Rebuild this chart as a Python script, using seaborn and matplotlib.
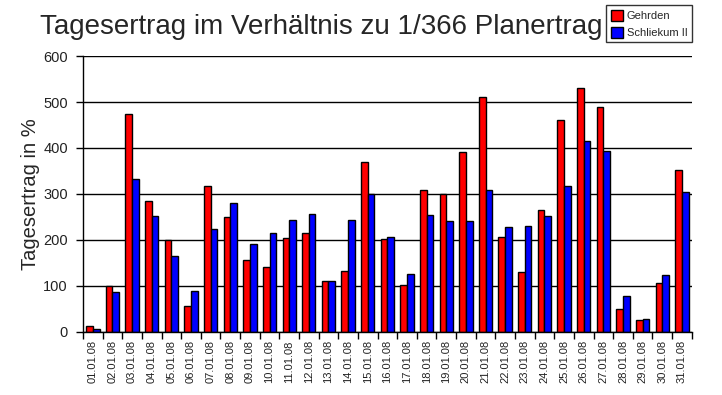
import matplotlib
matplotlib.use("Agg")
import matplotlib.pyplot as plt
import seaborn as sns
import pandas as pd
from matplotlib.patches import Patch

dates = [f"{d:02d}.01.08" for d in range(1, 32)]
gehrden = [12, 100, 474, 285, 199, 56, 317, 250, 156, 141, 204, 215, 111, 133, 370, 202,
           102, 309, 299, 391, 511, 206, 130, 265, 461, 530, 489, 50, 26, 106, 352]
schliekum = [6, 87, 333, 252, 165, 89, 224, 280, 191, 215, 243, 256, 111, 243, 299, 206,
             126, 254, 241, 241, 309, 228, 230, 252, 317, 415, 393, 78, 28, 124, 304]
series_names = ["Gehrden", "Schliekum II"]
colors = ["#ff0000", "#0000ff"]

df = pd.DataFrame({
    "Datum": dates * 2,
    "Wert": gehrden + schliekum,
    "Anlage": [series_names[0]] * len(dates) + [series_names[1]] * len(dates),
})

sns.set_style("white")
plt.rcParams["font.family"] = ["Liberation Sans", "DejaVu Sans"]

fig = plt.figure(figsize=(7.22, 3.95), dpi=100)
ax = fig.add_axes([0.115, 0.16, 0.843, 0.698])

sns.barplot(data=df, x="Datum", y="Wert", hue="Anlage", palette=colors,
            width=0.68, edgecolor="black", linewidth=1.0, ax=ax, legend=False,
            saturation=1)

ax.set_ylim(0, 600)
ax.set_yticks(range(0, 601, 100))
ax.set_xlim(-0.5, len(dates) - 0.5)
ax.yaxis.grid(True, color="black", linewidth=1)
ax.set_axisbelow(True)
for s in ["top", "right"]:
    ax.spines[s].set_visible(False)
for s in ["left", "bottom"]:
    ax.spines[s].set_color("black")
    ax.spines[s].set_linewidth(1)

ax.set_xticks([i for i in range(len(dates))])
ax.set_xticklabels(dates, rotation=90, fontsize=8, color="#222222")
ax.set_xticks([i - 0.5 for i in range(len(dates) + 1)], minor=True)
ax.tick_params(axis="x", which="major", length=0, pad=6)
ax.tick_params(axis="x", which="minor", length=5, width=1, color="black", direction="out", bottom=True)
ax.tick_params(axis="y", length=5, width=1, color="black", direction="out", left=True,
               labelsize=10.5, pad=6, labelcolor="#222222")

ax.set_xlabel("")
ax.set_ylabel("Tagesertrag in %", fontsize=14.5, labelpad=2)

fig.text(0.055, 0.932, "Tagesertrag im Verhältnis zu 1/366 Planertrag", fontsize=20,
         ha="left", va="center")

handles = [Patch(facecolor=c, edgecolor="black", label=n) for c, n in zip(colors, series_names)]
leg = fig.legend(handles=handles, loc="upper right", bbox_to_anchor=(0.9585, 0.987),
                 fontsize=8, frameon=True, fancybox=False, edgecolor="black",
                 handlelength=1.1, handleheight=1.2, handletextpad=0.35,
                 borderpad=0.4, labelspacing=0.5, borderaxespad=0)
leg.get_frame().set_linewidth(1)

fig.savefig("out.png", dpi=100, facecolor="white")
